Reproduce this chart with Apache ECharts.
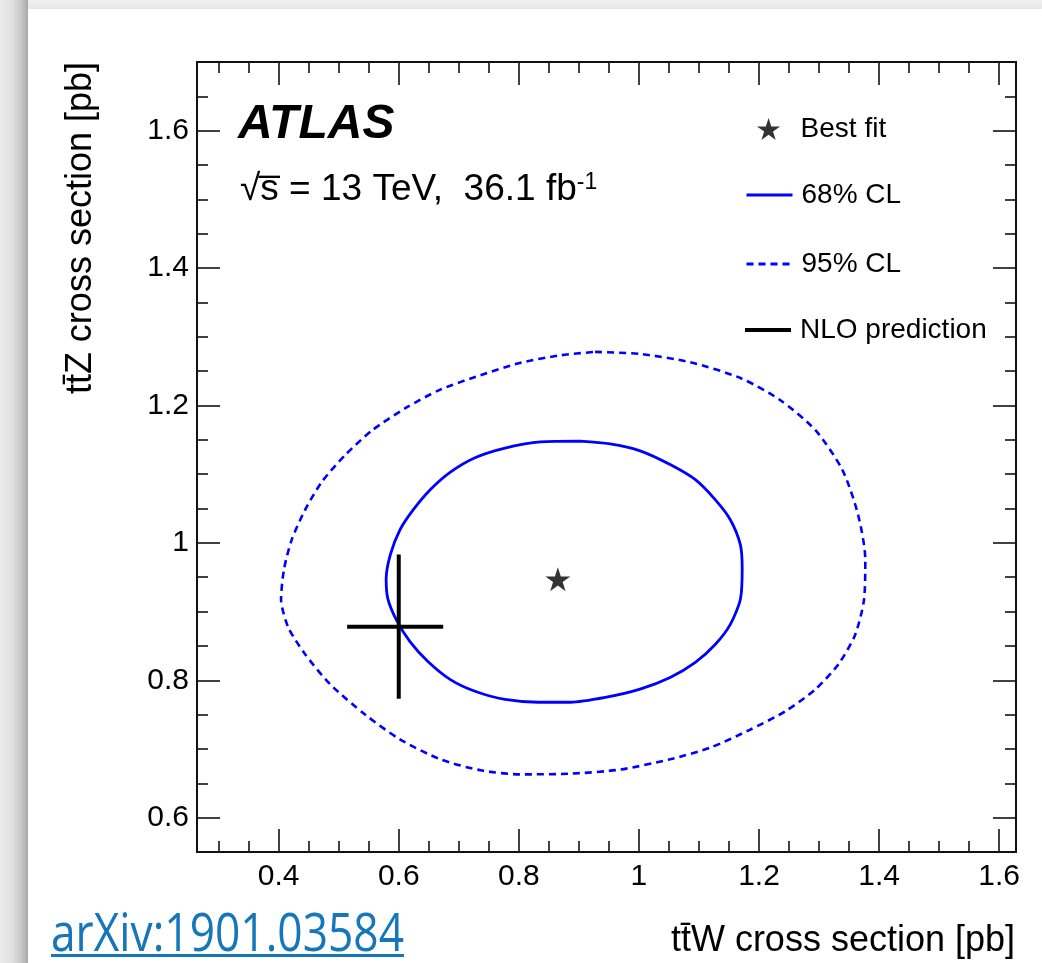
<!DOCTYPE html>
<html>
<head>
<meta charset="utf-8">
<script src="https://cdn.jsdelivr.net/npm/echarts@6/dist/echarts.min.js"></script>
<style>
html,body{margin:0;padding:0;width:1042px;height:963px;overflow:hidden;background:#ebebeb;}
#topbar{position:absolute;left:0;top:0;width:1042px;height:9px;background:linear-gradient(#f1f1f1,#e7e7e7);}
#leftbar{position:absolute;left:0;top:0;width:28px;height:963px;background:linear-gradient(to right,#ebebeb 0px,#e0e0e0 12px,#c8c8c8 21px,#a8a8a8 28px);}
#card{position:absolute;left:28px;top:9px;right:0;bottom:0;background:#ffffff;}
#chart{position:absolute;left:0;top:0;width:1042px;height:963px;}
#arxiv{position:absolute;left:51px;top:904px;font-family:"Open Sans",sans-serif;font-size:53px;line-height:53px;color:#1576ba;white-space:nowrap;
  text-decoration:underline;text-decoration-thickness:3px;text-underline-offset:3px;transform-origin:0 0;z-index:5;}
</style>
</head>
<body>
<div id="topbar"></div>
<div id="leftbar"></div>
<div id="card"></div>
<div id="chart"></div>
<a id="arxiv" href="https://arxiv.org/abs/1901.03584">arXiv:1901.03584</a>
<script>
// ---- axis ranges and ticks ----
const X_RANGE = [0.264, 1.628];
const Y_RANGE = [0.55, 1.70];
const X_MAJOR = [0.4, 0.6, 0.8, 1.0, 1.2, 1.4, 1.6];
const X_MINOR = [0.3, 0.35, 0.45, 0.5, 0.55, 0.65, 0.7, 0.75, 0.85, 0.9, 0.95, 1.05, 1.1, 1.15, 1.25, 1.3, 1.35, 1.45, 1.5, 1.55];
const Y_MAJOR = [0.6, 0.8, 1.0, 1.2, 1.4, 1.6];
const Y_MINOR = [0.65, 0.7, 0.75, 0.85, 0.9, 0.95, 1.05, 1.1, 1.15, 1.25, 1.3, 1.35, 1.45, 1.5, 1.55, 1.65];

// ---- data ----
const BEST_FIT = [0.865, 0.947];
const NLO_CENTER = [0.600, 0.878];
const NLO_X_ERR = [0.514, 0.674];
const NLO_Y_ERR = [0.773, 0.983];

const CL68_X = [0.902,0.952,1.002,1.052,1.094,1.127,1.152,1.169,1.172,1.169,1.152,1.127,1.094,1.052,1.002,0.944,0.886,0.832,0.777,0.727,0.686,0.649,0.619,0.596,0.582,0.579,0.586,0.602,0.624,0.652,0.686,0.727,0.777,0.836,0.902];
const CL68_Y = [1.148,1.144,1.134,1.114,1.092,1.063,1.034,0.997,0.962,0.918,0.881,0.852,0.826,0.804,0.787,0.775,0.768,0.768,0.772,0.784,0.801,0.827,0.856,0.888,0.918,0.947,0.983,1.019,1.048,1.077,1.103,1.124,1.138,1.147,1.148];

const CL95_X = [0.927,1.002,1.085,1.169,1.235,1.294,1.339,1.365,1.377,1.375,1.360,1.332,1.294,1.244,1.185,1.119,1.052,0.969,0.886,0.802,0.736,0.669,0.602,0.544,0.486,0.444,0.416,0.404,0.409,0.422,0.444,0.472,0.511,0.556,0.611,0.669,0.736,0.802,0.869,0.927];
const CL95_Y = [1.278,1.275,1.263,1.240,1.208,1.164,1.106,1.041,0.976,0.918,0.866,0.823,0.787,0.755,0.728,0.702,0.685,0.670,0.664,0.663,0.669,0.685,0.714,0.750,0.794,0.838,0.877,0.918,0.962,1.005,1.048,1.089,1.128,1.164,1.196,1.223,1.244,1.262,1.273,1.278];

const SERIES_NAMES = ['Best fit', '68% CL', '95% CL', 'NLO prediction'];

// ---- styling ----
const FONT = '"Liberation Sans", Arial, Helvetica, sans-serif';
const STAR = 'path://M50,0 L61.2,34.5 L97.6,34.5 L68.2,55.9 L79.4,90.5 L50,69.1 L20.6,90.5 L31.8,55.9 L2.4,34.5 L38.8,34.5 Z';
const AXIS_COLOR = '#111';

function xAxisDef(position, ticks, len, labels) {
  return {
    type: 'value', position: position, min: X_RANGE[0], max: X_RANGE[1],
    axisLine: { show: true, onZero: false, lineStyle: { color: AXIS_COLOR, width: 2 } },
    axisTick: { show: true, inside: true, length: len, customValues: ticks, lineStyle: { color: AXIS_COLOR, width: 1.6 } },
    axisLabel: labels ? { show: true, customValues: X_MAJOR, color: '#000', fontFamily: FONT, fontSize: 30, margin: 10 } : { show: false },
    splitLine: { show: false }
  };
}
function yAxisDef(position, ticks, len, labels) {
  return {
    type: 'value', position: position, min: Y_RANGE[0], max: Y_RANGE[1],
    axisLine: { show: true, onZero: false, lineStyle: { color: AXIS_COLOR, width: 2 } },
    axisTick: { show: true, inside: true, length: len, customValues: ticks, lineStyle: { color: AXIS_COLOR, width: 1.6 } },
    axisLabel: labels ? { show: true, customValues: Y_MAJOR, color: '#000', fontFamily: FONT, fontSize: 30, margin: 8 } : { show: false },
    splitLine: { show: false }
  };
}

const toPairs = (xs, ys) => xs.map((x, i) => [x, ys[i]]);

const legendText = { color: '#000', fontFamily: FONT, fontSize: 28, padding: [0, 0, 0, 4] };
function legendDef(name, left, top, icon, h, hideSymbol) {
  const item = { name: name };
  if (icon) item.icon = icon;
  const lg = {
    data: [item], left: left, top: top, padding: 0, orient: 'vertical',
    itemWidth: 46, itemHeight: h, selectedMode: false,
    textStyle: legendText, lineStyle: { width: 3 }
  };
  if (hideSymbol) lg.itemStyle = { opacity: 0 };
  return lg;
}

const chart = echarts.init(document.getElementById('chart'), null, { renderer: 'canvas' });
const option = {
  animation: false,
  backgroundColor: 'transparent',
  grid: { left: 197, top: 62, width: 819, height: 790, containLabel: false },
  xAxis: [
    xAxisDef('bottom', X_MAJOR, 23, true),
    xAxisDef('bottom', X_MINOR, 11, false),
    xAxisDef('top', X_MAJOR, 23, false),
    xAxisDef('top', X_MINOR, 11, false)
  ],
  yAxis: [
    yAxisDef('left', Y_MAJOR, 23, true),
    yAxisDef('left', Y_MINOR, 11, false),
    yAxisDef('right', Y_MAJOR, 23, false),
    yAxisDef('right', Y_MINOR, 11, false)
  ],
  legend: [
    legendDef(SERIES_NAMES[0], 757, 115, STAR, 22, false),
    legendDef(SERIES_NAMES[1], 745, 181, null, 14, true),
    legendDef(SERIES_NAMES[2], 745, 250, null, 14, true),
    legendDef(SERIES_NAMES[3], 745, 316, 'rect', 4, false)
  ],
  series: [
    {
      name: SERIES_NAMES[2], type: 'line', data: toPairs(CL95_X, CL95_Y),
      symbol: 'none', smooth: 0.25, color: '#0000ff',
      lineStyle: { color: '#0000ff', width: 2.6, type: [7, 5] }, z: 2
    },
    {
      name: SERIES_NAMES[1], type: 'line', data: toPairs(CL68_X, CL68_Y),
      symbol: 'none', smooth: 0.25, color: '#0000ff',
      lineStyle: { color: '#0000ff', width: 2.8, type: 'solid' }, z: 3
    },
    {
      name: SERIES_NAMES[3], type: 'custom', color: '#000',
      itemStyle: { color: '#000' },
      data: [[NLO_CENTER[0], NLO_CENTER[1], NLO_X_ERR[0], NLO_X_ERR[1], NLO_Y_ERR[0], NLO_Y_ERR[1]]],
      encode: { x: [0, 2, 3], y: [1, 4, 5] },
      renderItem: function (params, api) {
        const xl = api.coord([api.value(2), api.value(1)]);
        const xh = api.coord([api.value(3), api.value(1)]);
        const yl = api.coord([api.value(0), api.value(4)]);
        const yh = api.coord([api.value(0), api.value(5)]);
        const st = { stroke: '#000', lineWidth: 4 };
        return {
          type: 'group', children: [
            { type: 'line', shape: { x1: xl[0], y1: xl[1], x2: xh[0], y2: xh[1] }, style: st },
            { type: 'line', shape: { x1: yl[0], y1: yl[1], x2: yh[0], y2: yh[1] }, style: st }
          ]
        };
      }, z: 4
    },
    {
      name: SERIES_NAMES[0], type: 'scatter', data: [BEST_FIT],
      symbol: STAR, symbolSize: [25, 24], itemStyle: { color: '#000' }, z: 5
    }
  ],
  graphic: [
    { type: 'text', x: 238, y: 125, style: { text: 'ATLAS', fill: '#000', fontFamily: FONT, fontSize: 48, fontWeight: 'bold', fontStyle: 'italic', align: 'left', verticalAlign: 'middle' } },
    { type: 'text', x: 240, y: 190, style: {
        text: '{m|√s\u0305 = 13 TeV,  36.1 fb}{s|-1}', align: 'left', verticalAlign: 'middle',
        rich: {
          m: { fill: '#000', fontFamily: FONT, fontSize: 37 },
          s: { fill: '#000', fontFamily: FONT, fontSize: 23, verticalAlign: 'top' }
        } } },
    { type: 'text', x: 1015, y: 941, style: { text: 'tt\u0304W cross section [pb]', fill: '#000', fontFamily: FONT, fontSize: 36, align: 'right', verticalAlign: 'middle' } },
    { type: 'text', x: 81, y: 62, rotation: Math.PI / 2, style: { text: 'tt\u0304Z cross section [pb]', fill: '#000', fontFamily: FONT, fontSize: 36, align: 'right', verticalAlign: 'middle' } }
  ]
};
chart.setOption(option);

// fit the arXiv reference text to its width in the original
const a = document.getElementById('arxiv');
const w = a.getBoundingClientRect().width;
if (w > 0) a.style.transform = 'scaleX(' + (353 / w) + ')';
</script>
</body>
</html>
